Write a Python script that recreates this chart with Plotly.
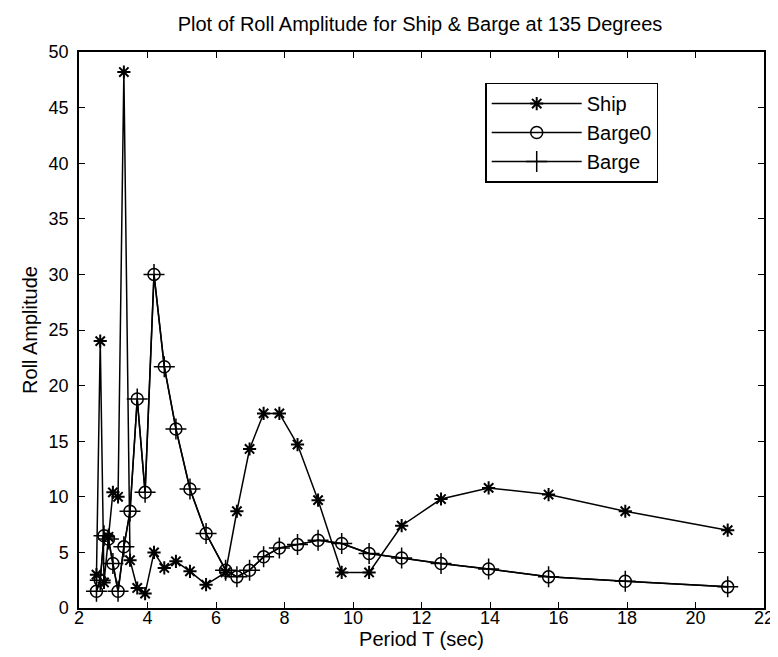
import plotly.graph_objects as go

period = [2.51, 2.62, 2.73, 2.86, 2.99, 3.14, 3.31, 3.49, 3.70, 3.93, 4.19, 4.49,
          4.83, 5.24, 5.71, 6.28, 6.61, 6.98, 7.39, 7.85, 8.38, 8.98, 9.67, 10.47,
          11.42, 12.57, 13.96, 15.71, 17.95, 20.94]

ship = [3.0, 24.0, 2.3, 6.4, 10.4, 10.0, 48.2, 4.3, 1.8, 1.3, 5.0, 3.6,
        4.2, 3.3, 2.1, 3.2, 8.7, 14.3, 17.5, 17.5, 14.7, 9.7, 3.2, 3.2,
        7.4, 9.8, 10.8, 10.2, 8.7, 7.0]

barge0 = [1.5, 2.5, 6.5, 6.2, 4.0, 1.5, 5.5, 8.7, 18.8, 10.4, 30.0, 21.7,
          16.1, 10.7, 6.7, 3.4, 2.8, 3.4, 4.6, 5.4, 5.7, 6.1, 5.8, 4.9,
          4.5, 4.0, 3.5, 2.8, 2.4, 1.9]

barge = [1.5, 2.5, 6.5, 6.2, 4.0, 1.5, 5.5, 8.7, 18.8, 10.4, 30.0, 21.7,
         16.1, 10.7, 6.7, 3.4, 2.8, 3.4, 4.6, 5.4, 5.7, 6.1, 5.8, 4.9,
         4.5, 4.0, 3.5, 2.8, 2.4, 1.9]

x_ticks = [2, 4, 6, 8, 10, 12, 14, 16, 18, 20, 22]
y_ticks = [0, 5, 10, 15, 20, 25, 30, 35, 40, 45, 50]

FONT = "Liberation Sans, Arial, Helvetica, sans-serif"

fig = go.Figure()
fig.add_trace(go.Scatter(
    x=period, y=ship, name="Ship", mode="lines+markers",
    line=dict(color="black", width=1.5),
    marker=dict(symbol="asterisk-open", size=11, color="black",
                line=dict(color="black", width=2)),
))
fig.add_trace(go.Scatter(
    x=period, y=barge0, name="Barge0", mode="lines+markers",
    line=dict(color="black", width=1.5),
    marker=dict(symbol="circle-open", size=12, color="black",
                line=dict(color="black", width=1.5)),
))
fig.add_trace(go.Scatter(
    x=period, y=barge, name="Barge", mode="lines+markers",
    line=dict(color="black", width=1.5),
    marker=dict(symbol="cross-thin-open", size=15, color="black",
                line=dict(color="black", width=1.5)),
))

axis_common = dict(
    showgrid=False, zeroline=False, showline=True, linecolor="black",
    linewidth=1.5, mirror="ticks", ticks="inside", ticklen=6,
    tickcolor="black", tickwidth=1.2,
    tickfont=dict(family=FONT, size=18, color="black"),
)

fig.update_layout(
    width=778, height=657,
    margin=dict(l=71, r=12, t=44, b=57),
    paper_bgcolor="white", plot_bgcolor="white",
    title=dict(text="Plot of Roll Amplitude for Ship & Barge at 135 Degrees",
               x=412 / 778, xanchor="center", y=1 - 16 / 657,
               yanchor="middle",
               font=dict(family=FONT, size=20, color="black")),
    xaxis=dict(range=[2, 22], tickvals=x_ticks, ticklabelstandoff=-7,
               title=dict(text="Period T (sec)", standoff=2,
                          font=dict(family=FONT, size=20, color="black")),
               **axis_common),
    yaxis=dict(range=[0, 50], tickvals=y_ticks, ticklabelstandoff=5,
               title=dict(text="Roll Amplitude", standoff=6,
                          font=dict(family=FONT, size=20, color="black")),
               **axis_common),
    legend=dict(x=0.593, y=0.945, xanchor="left", yanchor="top",
                bgcolor="white", bordercolor="black", borderwidth=1.5,
                font=dict(family=FONT, size=20, color="black"),
                itemwidth=90, tracegroupgap=0),
    showlegend=True,
)

fig.write_html("out.html")
